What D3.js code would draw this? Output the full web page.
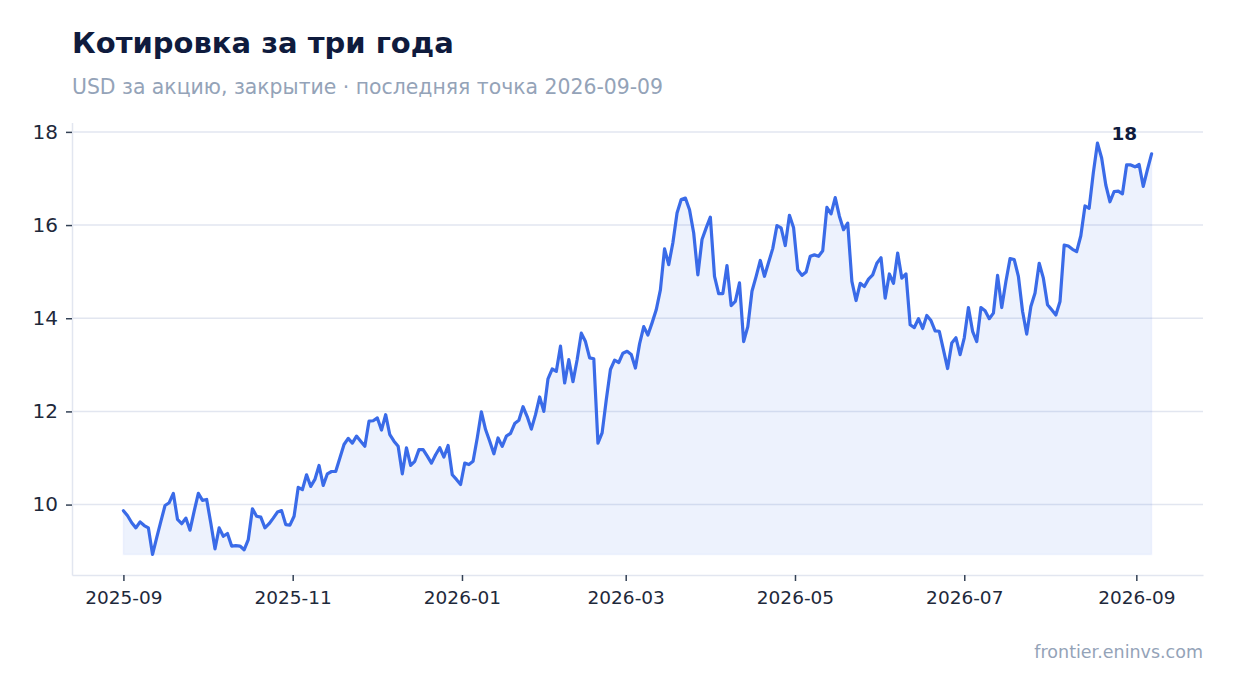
<!DOCTYPE html>
<html><head><meta charset="utf-8">
<script src="https://cdn.jsdelivr.net/npm/d3@7/dist/d3.min.js"></script>
<style>
html,body{margin:0;padding:0;background:#fff;}
svg{display:block;font-family:"DejaVu Sans",sans-serif;}
</style></head>
<body><svg id="chart" width="1234" height="693"></svg>
<script>
const titleText = "Котировка за три года";
const subtitleText = "USD за акцию, закрытие · последняя точка 2026-09-09";
const sourceText = "frontier.eninvs.com";
const startDate = "2025-09-01";
const stepHours = 36;
const prices = [
9.87,9.76,9.61,9.50,9.63,9.55,9.50,8.93,9.29,9.64,
9.98,10.04,10.24,9.68,9.59,9.71,9.45,9.86,10.24,10.09,
10.11,9.60,9.05,9.50,9.32,9.38,9.11,9.12,9.11,9.03,
9.25,9.91,9.75,9.73,9.50,9.59,9.71,9.84,9.87,9.57,
9.56,9.75,10.37,10.32,10.64,10.39,10.54,10.84,10.41,10.66,
10.71,10.71,11.00,11.29,11.42,11.32,11.47,11.36,11.25,11.79,
11.80,11.86,11.60,11.93,11.50,11.36,11.25,10.66,11.22,10.84,
10.93,11.18,11.18,11.04,10.89,11.07,11.22,11.02,11.27,10.64,
10.54,10.43,10.89,10.86,10.93,11.43,11.99,11.61,11.36,11.09,
11.43,11.25,11.47,11.53,11.74,11.81,12.10,11.89,11.62,11.93,
12.31,12.00,12.70,12.91,12.86,13.40,12.61,13.11,12.64,13.11,
13.68,13.50,13.15,13.13,11.32,11.54,12.25,12.90,13.10,13.05,
13.25,13.29,13.22,12.93,13.45,13.82,13.64,13.90,14.18,14.61,
15.49,15.15,15.62,16.26,16.55,16.58,16.33,15.83,14.93,15.69,
15.94,16.17,14.90,14.53,14.53,15.13,14.27,14.36,14.76,13.50,
13.82,14.58,14.90,15.24,14.90,15.20,15.50,15.99,15.94,15.56,
16.21,15.94,15.04,14.92,14.99,15.33,15.36,15.33,15.45,16.38,
16.24,16.59,16.19,15.90,16.04,14.79,14.38,14.75,14.68,14.84,
14.93,15.18,15.30,14.43,14.95,14.75,15.40,14.86,14.95,13.86,
13.80,13.99,13.78,14.06,13.95,13.73,13.72,13.32,12.92,13.47,
13.58,13.22,13.58,14.23,13.72,13.50,14.23,14.16,13.99,14.11,
14.92,14.23,14.79,15.28,15.26,14.90,14.15,13.66,14.25,14.54,
15.18,14.86,14.29,14.18,14.07,14.36,15.57,15.55,15.48,15.43,
15.77,16.41,16.36,17.12,17.76,17.44,16.86,16.50,16.72,16.73,
16.67,17.29,17.29,17.25,17.30,16.83,17.19,17.53
];
const yTicks = [10, 12, 14, 16, 18];
const xTickLabels = ["2025-09","2025-11","2026-01","2026-03","2026-05","2026-07","2026-09"];

const W = 1234, H = 693;
const M = {left: 72, right: 31, top: 122.5, bottom: 118};
const svg = d3.select("#chart");

const parseDay = d3.utcParse("%Y-%m-%d");
const parseMonth = d3.utcParse("%Y-%m");
const t0 = parseDay(startDate);
const data = prices.map((v, i) => ({date: d3.utcHour.offset(t0, i * stepHours), value: v}));

const d0 = data[0].date, d1 = data[data.length - 1].date;
const xPad = (d1 - d0) * 0.05;
const x = d3.scaleUtc()
  .domain([new Date(+d0 - xPad), new Date(+d1 + xPad)])
  .range([M.left, W - M.right]);

const vMin = d3.min(prices), vMax = d3.max(prices);
const yPad = (vMax - vMin) * 0.05;
const y = d3.scaleLinear()
  .domain([vMin - yPad, vMax + yPad])
  .range([H - M.bottom, M.top]);

// title
svg.append("text").attr("x", 72).attr("y", 53)
  .attr("font-size", 29).attr("font-weight", "bold").attr("fill", "#0f1b3d")
  .text(titleText);
svg.append("text").attr("x", 72).attr("y", 94)
  .attr("font-size", 20.4).attr("fill", "#94a3b8")
  .text(subtitleText);

// gridlines
svg.append("g").selectAll("line").data(yTicks).join("line")
  .attr("x1", M.left).attr("x2", W - M.right)
  .attr("y1", d => y(d)).attr("y2", d => y(d))
  .attr("stroke", "#e2e6f0").attr("stroke-width", 1.5);

// area
const area = d3.area()
  .x(d => x(d.date)).y0(y(vMin)).y1(d => y(d.value));
svg.append("path").datum(data)
  .attr("d", area)
  .attr("fill", "#3b6be6").attr("fill-opacity", 0.09)
  .attr("stroke", "#3b6be6").attr("stroke-opacity", 0.05).attr("stroke-width", 1.5);

// line
const line = d3.line().x(d => x(d.date)).y(d => y(d.value));
svg.append("path").datum(data)
  .attr("d", line)
  .attr("fill", "none").attr("stroke", "#3a6be8")
  .attr("stroke-width", 3.2).attr("stroke-linejoin", "round").attr("stroke-linecap", "round");

// y axis
const yAxis = svg.append("g").attr("transform", `translate(${M.left},0)`)
  .call(d3.axisLeft(y).tickValues(yTicks).tickSizeInner(6).tickSizeOuter(0).tickPadding(8).tickFormat(d3.format("d")));
yAxis.select(".domain").attr("stroke", "#e2e6f0").attr("stroke-width", 1.5);
yAxis.selectAll(".tick line").attr("stroke", "#334155").attr("stroke-width", 1.5);
yAxis.selectAll(".tick text").attr("font-size", 20).attr("fill", "#1e293b")
  .attr("font-family", "DejaVu Sans");

// x axis
const xAxis = svg.append("g").attr("transform", `translate(0,${H - M.bottom})`)
  .call(d3.axisBottom(x).tickValues(xTickLabels.map(parseMonth)).tickSizeInner(6).tickSizeOuter(0).tickPadding(10)
    .tickFormat(d3.utcFormat("%Y-%m")));
xAxis.select(".domain").attr("stroke", "#e2e6f0").attr("stroke-width", 1.5);
xAxis.selectAll(".tick line").attr("stroke", "#334155").attr("stroke-width", 1.5);
xAxis.selectAll(".tick text").attr("font-size", 18.5).attr("fill", "#1e293b")
  .attr("font-family", "DejaVu Sans");

// max label
const maxPt = data.find(d => d.value === vMax);
svg.append("text")
  .attr("x", x(maxPt.date) + 14).attr("y", y(maxPt.value) - 3)
  .attr("font-size", 18.5).attr("font-weight", "bold").attr("fill", "#0f1b3d")
  .text(d3.format(".0f")(vMax));

// source
svg.append("text").attr("x", W - M.right).attr("y", 658)
  .attr("text-anchor", "end").attr("font-size", 17.5).attr("fill", "#94a3b8")
  .text(sourceText);
</script></body></html>
